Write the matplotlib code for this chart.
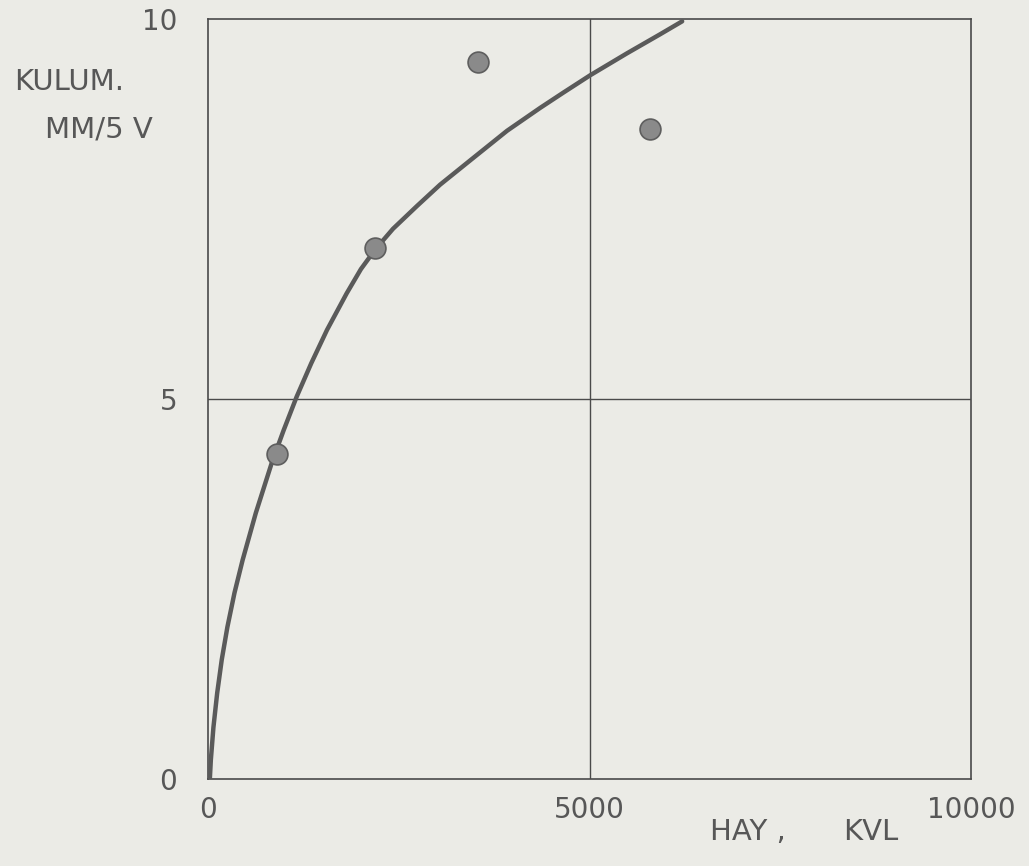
import matplotlib
matplotlib.use("Agg")
import matplotlib.pyplot as plt

# curve
curve_x = [26, 39, 73, 122, 182, 256, 349, 455, 628, 837, 993, 1163, 1354, 1561, 1818,
           2005, 2194, 2425, 2739, 3041, 3473, 3919, 4351, 4653, 5007, 5491, 5924, 6212]
curve_y = [0, 0.25, 0.68, 1.13, 1.57, 2.00, 2.45, 2.88, 3.50, 4.16, 4.59, 5.03, 5.47, 5.91, 6.39,
           6.71, 6.97, 7.24, 7.54, 7.82, 8.17, 8.53, 8.83, 9.03, 9.26, 9.55, 9.80, 9.97]

# measured points
pts_x = [906, 2192, 3543, 5787]
pts_y = [4.28, 6.99, 9.43, 8.55]

xticks = [0, 5000, 10000]
yticks = [0, 5, 10]

paper = "#ebebe6"
ink = "#4a4a4a"
txt = "#575757"

fig = plt.figure(figsize=(10.29, 8.66), dpi=100, facecolor=paper)
ax = fig.add_axes([0.202, 0.1005, 0.742, 0.8775], facecolor=paper)

ax.plot(curve_x, curve_y, color="#5a5a5a", lw=3.2, solid_capstyle="round",
        solid_joinstyle="round", zorder=3)
ax.plot(pts_x, pts_y, "o", ms=15, mfc="#8a8a8a", mec="#5e5e5e", mew=1.2, zorder=4)

ax.axvline(5000, color=ink, lw=1)
ax.axhline(5, color=ink, lw=1)

ax.set_xlim(0, 10000)
ax.set_ylim(0, 10)
ax.set_xticks(xticks)
ax.set_yticks(yticks)
ax.set_xticklabels([str(t) for t in xticks])
ax.set_yticklabels([str(t) for t in yticks])
ax.tick_params(length=0, labelsize=20, labelcolor=txt)
ax.tick_params(axis="x", pad=12)
ax.tick_params(axis="y", pad=22)
for s in ax.spines.values():
    s.set_color(ink)
    s.set_linewidth(1.2)

fig.text(0.014, 0.905, "KULUM.", fontsize=21, color=txt, va="center", ha="left")
fig.text(0.044, 0.85, "MM/5 V", fontsize=21, color=txt, va="center", ha="left")
fig.text(0.69, 0.023, "HAY ,", fontsize=21, color=txt, va="bottom", ha="left")
fig.text(0.819, 0.023, "KVL", fontsize=21, color=txt, va="bottom", ha="left")

fig.savefig("out.png", dpi=100, facecolor=paper)
